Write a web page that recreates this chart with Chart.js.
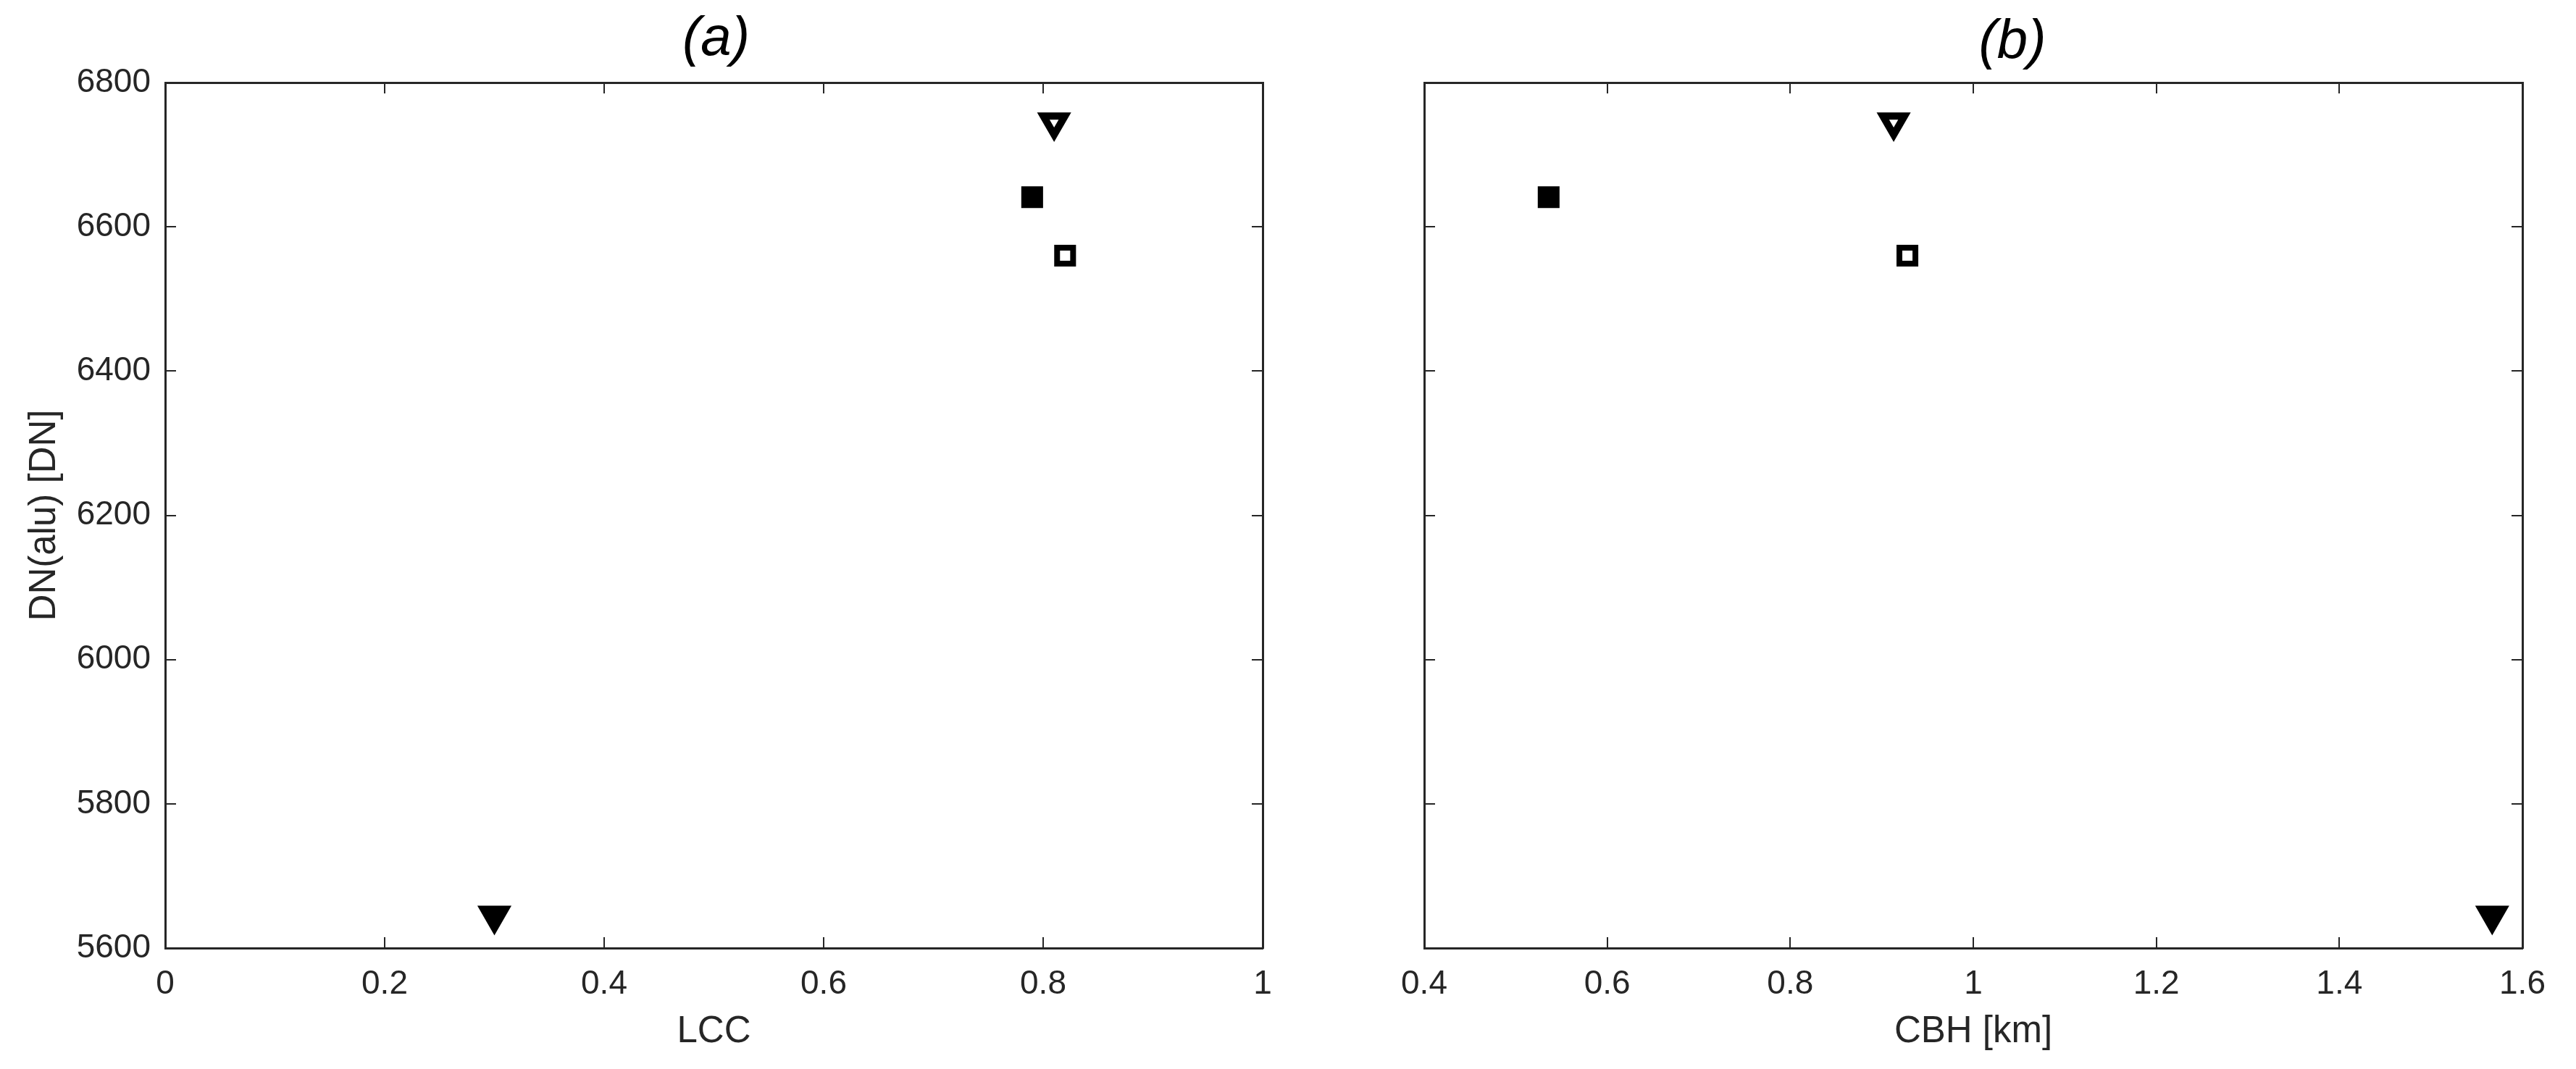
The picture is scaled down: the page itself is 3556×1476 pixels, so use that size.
<!DOCTYPE html>
<html>
<head>
<meta charset="utf-8">
<script src="https://cdn.jsdelivr.net/npm/chart.js@4/dist/chart.umd.min.js"></script>
<style>
html, body { margin: 0; padding: 0; background: #fff; }
.panel { position: absolute; left: 0; top: 0; width: 3556px; height: 1476px; }
</style>
</head>
<body>
<div class="panel"><canvas id="chartA" width="3556" height="1476"></canvas></div>
<div class="panel"><canvas id="chartB" width="3556" height="1476"></canvas></div>
<script>
// data: one point per case, same order in every array
var cases = ['open triangle', 'filled square', 'open square', 'filled triangle'];
var lcc = [0.81, 0.79, 0.82, 0.30];
var cbh = [0.913, 0.536, 0.928, 1.567];
var dnAlu = [6745, 6641, 6560, 5645];

var lccTicks = [0, 0.2, 0.4, 0.6, 0.8, 1];
var cbhTicks = [0.4, 0.6, 0.8, 1, 1.2, 1.4, 1.6];
var dnTicks = [5600, 5800, 6000, 6200, 6400, 6600, 6800];

var W = 3556, H = 1476;
var axisColor = '#262626';
var fontFamily = '"Liberation Sans", Arial, Helvetica, sans-serif';

// marker look per case
var pointStyles = ['triangle', 'rect', 'rect', 'triangle'];
var pointRotations = [180, 0, 0, 180];
var pointFills = ['#ffffff', '#000000', '#ffffff', '#000000'];
var pointRadii = [17.2, 15.6, 15.6, 17.2];
var pointBorders = [10, 8, 8, 10];

// panel title drawn over the plot area
var panelTitle = {
    id: 'panelTitle',
    afterDraw: function(chart, args, opts) {
        var ctx = chart.ctx, area = chart.chartArea;
        ctx.save();
        ctx.font = 'italic 76px ' + fontFamily;
        ctx.fillStyle = '#000';
        ctx.textAlign = 'center';
        ctx.textBaseline = 'alphabetic';
        ctx.fillText(opts.text, (area.left + area.right) / 2 + opts.dx, opts.y);
        ctx.restore();
    }
};

function setTicks(list) {
    return function(scale) {
        scale.ticks = list.map(function(v) { return { value: v }; });
    };
}

function boxAxis(pos, min, max, list, size, extra) {
    var axis = {
        type: 'linear',
        position: pos,
        min: min,
        max: max,
        afterBuildTicks: setTicks(list),
        afterFit: function(scale) {
            if (pos === 'left' || pos === 'right') scale.width = size;
            else scale.height = size;
        },
        border: { display: true, color: axisColor, width: 3 },
        grid: { drawOnChartArea: false, drawTicks: true, tickLength: -15, color: axisColor, lineWidth: 2 },
        ticks: { display: false }
    };
    if (extra) Object.assign(axis, extra);
    return axis;
}

function makeChart(id, xs, xMin, xMax, xTicks, xTitle, title, area, showY) {
    var points = xs.map(function(x, i) { return { x: x, y: dnAlu[i] }; });
    var tickFont = { family: fontFamily, size: 46 };
    var titleFont = { family: fontFamily, size: 51 };

    var yExtra = showY ? {
        ticks: {
            display: true, color: axisColor, font: tickFont, padding: 35,
            callback: function(v) { return String(v); }
        },
        title: { display: true, text: 'DN(alu) [DN]', color: axisColor, font: titleFont, padding: { top: 31, bottom: 0 } }
    } : null;

    return new Chart(document.getElementById(id), {
        type: 'scatter',
        data: {
            datasets: [{
                label: 'cases',
                data: points,
                xAxisID: 'x',
                yAxisID: 'y',
                pointStyle: pointStyles,
                rotation: pointRotations,
                backgroundColor: pointFills,
                borderColor: '#000000',
                pointRadius: pointRadii,
                pointBorderWidth: pointBorders,
                clip: false
            }]
        },
        options: {
            responsive: false,
            animation: false,
            layout: { padding: 0 },
            plugins: {
                legend: { display: false },
                tooltip: { enabled: false },
                panelTitle: title
            },
            scales: {
                x: boxAxis('bottom', xMin, xMax, xTicks, H - area.bottom, {
                    ticks: {
                        display: true, color: axisColor, font: tickFont, padding: 38, maxRotation: 0,
                        callback: function(v) { return String(v); }
                    },
                    title: { display: true, text: xTitle, color: axisColor, font: titleFont, padding: { top: 0, bottom: 20 } }
                }),
                x2: boxAxis('top', xMin, xMax, xTicks, area.top),
                y: boxAxis('left', 5600, 6800, dnTicks, area.left, yExtra),
                y2: boxAxis('right', 5600, 6800, dnTicks, W - area.right)
            }
        },
        plugins: [panelTitle]
    });
}

makeChart('chartA', lcc, 0, 1, lccTicks, 'LCC',
    { text: '(a)', dx: 3, y: 76 },
    { left: 228, right: 1743, top: 114, bottom: 1309 }, true);

makeChart('chartB', cbh, 0.4, 1.6, cbhTicks, 'CBH [km]',
    { text: '(b)', dx: 54, y: 80 },
    { left: 1966, right: 3482, top: 114, bottom: 1309 }, false);
</script>
</body>
</html>
